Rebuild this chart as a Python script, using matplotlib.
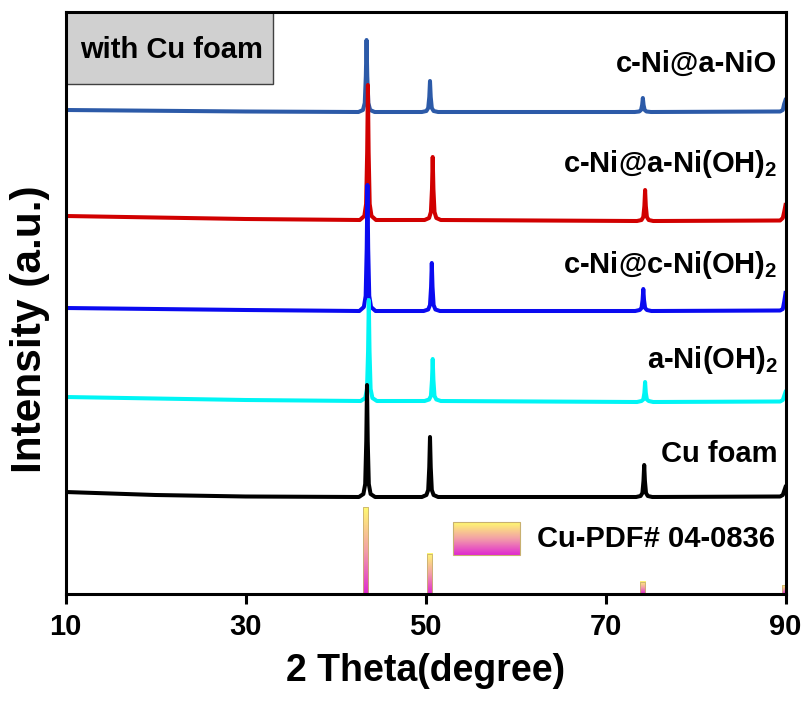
import numpy as np
import matplotlib
matplotlib.use("Agg")
import matplotlib.pyplot as plt
from matplotlib.patches import Rectangle
from matplotlib.colors import LinearSegmentedColormap

plt.rcParams['font.family'] = ['Liberation Sans', 'DejaVu Sans']
plt.rcParams['font.weight'] = 'bold'
plt.rcParams['mathtext.fontset'] = 'custom'
plt.rcParams['mathtext.rm'] = 'Liberation Sans:bold'
plt.rcParams['mathtext.bf'] = 'Liberation Sans:bold'
plt.rcParams['mathtext.default'] = 'bf'

# ---------------- data (2theta, intensity in arbitrary units, offset stacked) ----------------
x_nio = [10, 30, 42.55, 43.05, 43.25, 43.37, 43.45, 43.53, 43.65, 43.85, 44.35,
         49.6, 50.1, 50.3, 50.42, 50.5, 50.58, 50.7, 50.9, 51.4,
         73.25, 73.75, 73.95, 74.07, 74.15, 74.23, 74.35, 74.55, 75.05,
         89.4, 89.7, 89.85, 90.0]
y_nio = [484, 482.5, 482, 484, 491, 518, 554, 518, 491, 484, 482,
         482, 483, 486, 497, 513, 497, 486, 483, 482,
         482, 482.5, 484, 489, 496, 489, 484, 482.5, 482,
         482.5, 484, 490, 494]

x_aoh = [10, 30, 42.7, 43.2, 43.4, 43.52, 43.6, 43.68, 43.8, 44.0, 44.5,
         49.9, 50.4, 50.6, 50.72, 50.8, 50.88, 51.0, 51.2, 51.7,
         73.5, 74.0, 74.2, 74.32, 74.4, 74.48, 74.6, 74.8, 75.3,
         89.4, 89.7, 89.85, 90.0]
y_aoh = [378, 375, 374, 378, 390, 442, 509, 442, 390, 378, 374,
         374, 376, 382, 405, 437, 405, 382, 376, 374,
         373, 374, 377, 388, 404, 388, 377, 374, 373,
         373.5, 376, 382, 389]

x_coh = [10, 30, 42.65, 43.15, 43.35, 43.47, 43.55, 43.63, 43.75, 43.95, 44.45,
         49.8, 50.3, 50.5, 50.62, 50.7, 50.78, 50.9, 51.1, 51.6,
         73.3, 73.8, 74.0, 74.12, 74.2, 74.28, 74.4, 74.6, 75.1,
         89.4, 89.7, 89.85, 90.0]
y_coh = [286, 284, 283, 287, 298, 346, 409, 346, 298, 287, 283,
         283, 284.5, 289, 307, 331, 307, 289, 284.5, 283,
         283, 284, 286, 294, 305, 294, 286, 284, 283,
         283.5, 285, 292, 301]

x_a = [10, 30, 42.8, 43.3, 43.5, 43.62, 43.7, 43.78, 43.9, 44.1, 44.6,
       49.9, 50.4, 50.6, 50.72, 50.8, 50.88, 51.0, 51.2, 51.7,
       73.5, 74.0, 74.2, 74.32, 74.4, 74.48, 74.6, 74.8, 75.3,
       89.4, 89.7, 89.85, 90.0]
y_a = [197, 194, 193, 196, 205, 243, 294, 243, 205, 196, 193,
       193, 194.5, 198, 214, 235, 214, 198, 194.5, 193,
       192, 193, 194.5, 201, 212, 201, 194.5, 193, 192,
       192.5, 194, 198, 202]

x_cu = [10, 20, 30, 42.6, 43.1, 43.3, 43.42, 43.5, 43.58, 43.7, 43.9, 44.4,
        49.6, 50.1, 50.3, 50.42, 50.5, 50.58, 50.7, 50.9, 51.4,
        73.4, 73.9, 74.1, 74.22, 74.3, 74.38, 74.5, 74.7, 75.2,
        89.4, 89.7, 89.85, 90.0]
y_cu = [102, 99, 97.5, 97, 100, 110, 153, 209, 153, 110, 100, 97,
        97, 99, 104, 127, 157, 127, 104, 99, 97,
        97, 98, 101, 113, 129, 113, 101, 98, 97,
        97.5, 99, 103, 107]

pdf_pos = [43.3, 50.4, 74.1, 89.9]
pdf_int = [100, 46, 14, 10]

labels = ["c-Ni@a-NiO", r"c-Ni@a-Ni(OH)$_\mathbf{2}$", r"c-Ni@c-Ni(OH)$_\mathbf{2}$",
          r"a-Ni(OH)$_\mathbf{2}$", "Cu foam"]
colors = ["#2c5aa8", "#d10000", "#0a0af0", "#00f5f5", "#000000"]
series_x = [x_nio, x_aoh, x_coh, x_a, x_cu]
series_y = [y_nio, y_aoh, y_coh, y_a, y_cu]
label_y = [522, 422, 321, 226, 132]

xticks = [10, 30, 50, 70, 90]

# ---------------- figure ----------------
fig = plt.figure(figsize=(8.08, 7.06), dpi=100)
ax = fig.add_axes([65.5 / 808, 112 / 706, 720 / 808, 582 / 706])

for i, (xs, ys, c) in enumerate(zip(series_x, series_y, colors)):
    ax.plot(xs, ys, color=c, lw=2.9, solid_joinstyle='round', zorder=3 + i)

for lab, ly in zip(labels, label_y):
    ax.text(89.1, ly, lab, ha='right', va='baseline', fontsize=21, fontweight='bold', zorder=20)

# PDF sticks with gradient
cmap = LinearSegmentedColormap.from_list('pdf', ['#e028d0', '#f3a0a8', '#fffa70'])
grad = np.linspace(0, 1, 256).reshape(-1, 1)
scale = 0.87
hw = 0.28
for p, inten in zip(pdf_pos, pdf_int):
    h = inten * scale
    ax.imshow(grad, cmap=cmap, origin='lower', aspect='auto',
              extent=[p - hw, p + hw, 0, h], zorder=2, interpolation='bilinear')
    ax.add_patch(Rectangle((p - hw, 0), 2 * hw, h, fill=False, ec='#c8b070', lw=0.6, zorder=2.1))

# PDF legend
ax.imshow(grad, cmap=cmap, origin='lower', aspect='auto',
          extent=[53.05, 60.5, 39, 72], zorder=2, interpolation='bilinear')
ax.add_patch(Rectangle((53.05, 39), 7.45, 33, fill=False, ec='#c8b070', lw=0.8, zorder=2.1))
ax.text(62.4, 47, "Cu-PDF# 04-0836", ha='left', va='baseline', fontsize=21, fontweight='bold')

# "with Cu foam" box
ax.add_patch(Rectangle((0, 0.876), 0.2875, 0.124, transform=ax.transAxes,
                       facecolor='#d0d0d0', edgecolor='#404040', lw=1.0, zorder=15, clip_on=False))
ax.text(0.147, 0.935, "with Cu foam", transform=ax.transAxes, ha='center', va='center',
        fontsize=21, fontweight='bold', zorder=16)

ax.set_xlim(10, 90)
ax.set_ylim(0, 582)
ax.set_xticks(xticks)
ax.set_xticklabels([str(t) for t in xticks], fontsize=21, fontweight='bold')
ax.set_yticks([])
ax.tick_params(axis='x', direction='out', length=7, width=2.2, pad=7)
for s in ax.spines.values():
    s.set_linewidth(2.2)
    s.set_zorder(30)

ax.set_xlabel("2 Theta(degree)", fontsize=27, fontweight='bold', labelpad=8)
ax.set_ylabel("Intensity (a.u.)", fontsize=30.5, fontweight='bold')
ax.yaxis.set_label_coords(-0.021, 0.455)

fig.savefig("out.png", dpi=100)
